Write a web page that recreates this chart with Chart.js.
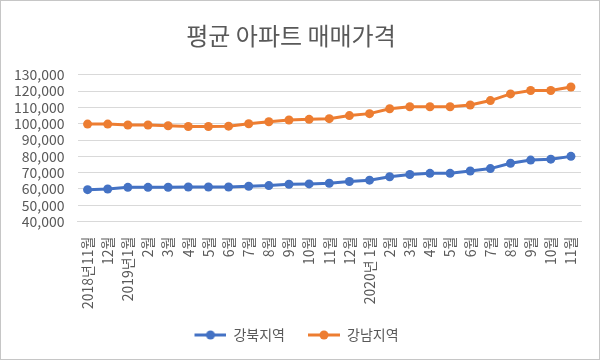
<!DOCTYPE html>
<html>
<head>
<meta charset="utf-8">
<script src="https://cdn.jsdelivr.net/npm/chart.js@4"></script>
<style>
  body { margin: 0; background: #fff; }
  #wrap { width: 600px; height: 360px; box-sizing: border-box; border: 1px solid #c6c6c6; position: relative; }
</style>
</head>
<body>
<div id="wrap"><canvas id="myChart"></canvas></div>
<script>
// months 2018.11 ~ 2020.11
var labels = ['2018년11월', '12월', '2019년1월', '2월', '3월', '4월', '5월', '6월', '7월', '8월', '9월', '10월', '11월',
              '12월', '2020년 1월', '2월', '3월', '4월', '5월', '6월', '7월', '8월', '9월', '10월', '11월'];

var gangbuk = [59600, 60000, 61000, 61000, 61100, 61200, 61200, 61200, 61700, 62100, 62900, 63100, 63500,
               64600, 65400, 67500, 68900, 69600, 69600, 71000, 72500, 75800, 77700, 78300, 80000];
var gangnam = [99800, 99800, 99200, 99200, 98800, 98300, 98300, 98500, 100000, 101200, 102300, 102700, 103100,
               105000, 106200, 109200, 110400, 110400, 110400, 111500, 114200, 118300, 120400, 120400, 122500];

var blue = '#4472C4';
var orange = '#ED7D31';
var grey = '#595959';
var font = "'Noto Sans CJK KR', 'Noto Sans', sans-serif";

// legend marker: short line with a dot, some blank room on the left
var gap = 11;
function marker(color) {
    var c = document.createElement('canvas');
    c.width = 32 + gap; c.height = 10;
    var g = c.getContext('2d');
    g.strokeStyle = color; g.lineWidth = 3;
    g.beginPath(); g.moveTo(gap, 5); g.lineTo(gap + 32, 5); g.stroke();
    g.fillStyle = color;
    g.beginPath(); g.arc(gap + 16, 5, 4.5, 0, Math.PI * 2); g.fill();
    return c;
}
var markers = [marker(blue), marker(orange)];

var ctx = document.getElementById('myChart').getContext('2d');
new Chart(ctx, {
    type: 'line',
    data: {
        labels: labels,
        datasets: [{
            label: '강북지역',
            data: gangbuk,
            borderColor: blue,
            backgroundColor: blue,
            borderWidth: 3,
            pointRadius: 4.5,
            pointBorderWidth: 0,
            pointHoverRadius: 4.5
        }, {
            label: '강남지역',
            data: gangnam,
            borderColor: orange,
            backgroundColor: orange,
            borderWidth: 3,
            pointRadius: 4.5,
            pointBorderWidth: 0,
            pointHoverRadius: 4.5
        }]
    },
    options: {
        responsive: true,
        maintainAspectRatio: false,
        animation: false,
        layout: { padding: { left: 0, right: 18, top: 0, bottom: 7 } },
        plugins: {
            title: {
                display: true,
                text: '평균 아파트 매매가격',
                color: grey,
                font: { family: font, size: 24, weight: 'normal' },
                padding: { top: 20, bottom: 25 }
            },
            legend: {
                position: 'bottom',
                labels: {
                    usePointStyle: true,
                    pointStyleWidth: 32 + gap,
                    boxHeight: 10,
                    padding: 12,
                    color: grey,
                    font: { family: font, size: 14 },
                    generateLabels: function (chart) {
                        var items = Chart.defaults.plugins.legend.labels.generateLabels(chart);
                        items.forEach(function (it, i) { it.pointStyle = markers[i]; });
                        return items;
                    }
                }
            },
            tooltip: { enabled: false }
        },
        scales: {
            x: {
                offset: true,
                grid: { display: false },
                border: { display: true, color: '#d9d9d9' },
                ticks: {
                    color: grey,
                    font: { family: font, size: 14 },
                    minRotation: 90,
                    maxRotation: 90,
                    autoSkip: false,
                    padding: 7
                }
            },
            y: {
                min: 40000,
                max: 130000,
                grid: { color: '#d9d9d9', drawTicks: false },
                border: { display: false },
                ticks: {
                    stepSize: 10000,
                    autoSkip: false,
                    color: grey,
                    font: { family: font, size: 14 },
                    padding: 13,
                    callback: function (v) { return v.toLocaleString('en-US'); }
                }
            }
        }
    }
});
</script>
</body>
</html>
